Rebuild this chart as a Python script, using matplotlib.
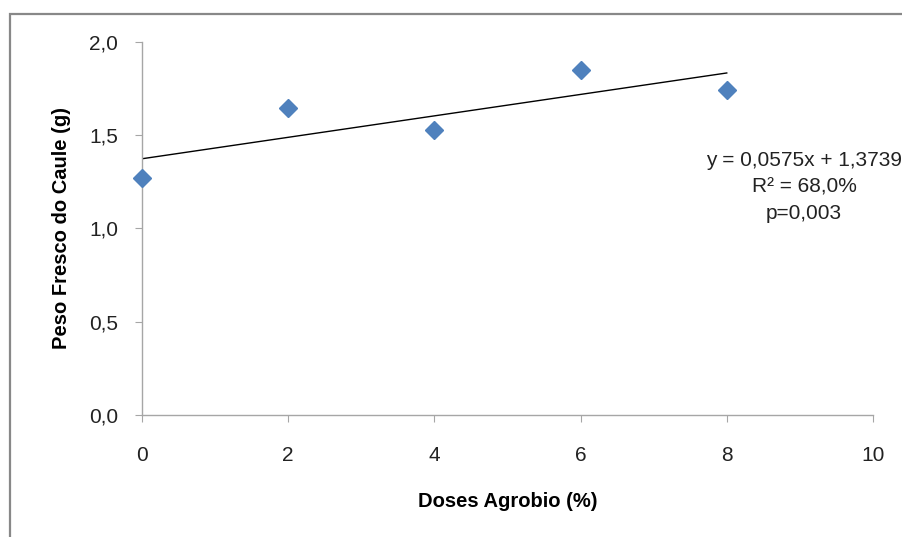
import matplotlib
matplotlib.use("Agg")
import matplotlib.pyplot as plt
from matplotlib.patches import Rectangle

# data
doses = [0, 2, 4, 6, 8]
peso = [1.27, 1.645, 1.53, 1.85, 1.745]
slope, intercept = 0.0575, 1.3739
eq_text = "y = 0,0575x + 1,3739\nR² = 68,0%\np=0,003"
x_ticks = [0, 2, 4, 6, 8, 10]
y_ticks = [0.0, 0.5, 1.0, 1.5, 2.0]
y_tick_labels = ["0,0", "0,5", "1,0", "1,5", "2,0"]

plt.rcParams["font.family"] = ["Liberation Sans", "DejaVu Sans"]

fig = plt.figure(figsize=(9.02, 5.37), dpi=100)
ax = fig.add_axes([0.1574, 0.2272, 0.8104, 0.6946])

# outer chart border (only top/left visible in reference)
fig.patches.append(Rectangle((10 / 902, -0.05), 1.0, 1 - 14 / 537 + 0.05,
                             transform=fig.transFigure, fill=False,
                             edgecolor="#888888", linewidth=1.6))

ax.plot(doses, peso, linestyle="none", marker="D", markersize=9.5,
        color="#4F81BD", clip_on=False, zorder=3)
fit_x = [doses[0], doses[-1]]
fit_y = [slope * v + intercept for v in fit_x]
ax.plot(fit_x, fit_y, color="black", linewidth=1)

ax.text(9.06, 1.222, eq_text, ha="center", va="center", fontsize=15,
        linespacing=1.5, clip_on=False, color="#222222")

ax.set_xlim(0, 10)
ax.set_ylim(0, 2.0)
ax.set_xticks(x_ticks)
ax.set_yticks(y_ticks)
ax.set_yticklabels(y_tick_labels)

for side in ("top", "right"):
    ax.spines[side].set_visible(False)
for side in ("left", "bottom"):
    ax.spines[side].set_color("#A6A6A6")
    ax.spines[side].set_linewidth(1)

ax.tick_params(axis="x", direction="out", length=5, color="#A6A6A6",
               labelsize=15, pad=17, labelcolor="#222222")
ax.tick_params(axis="y", direction="out", length=5, color="#A6A6A6",
               labelsize=15, pad=12, labelcolor="#222222")

ax.set_xlabel("Doses Agrobio (%)", fontsize=14.5, fontweight="bold", labelpad=20)
ax.set_ylabel("Peso Fresco do Caule (g)", fontsize=14.5, fontweight="bold", labelpad=13)

fig.savefig("out.png", dpi=100)
